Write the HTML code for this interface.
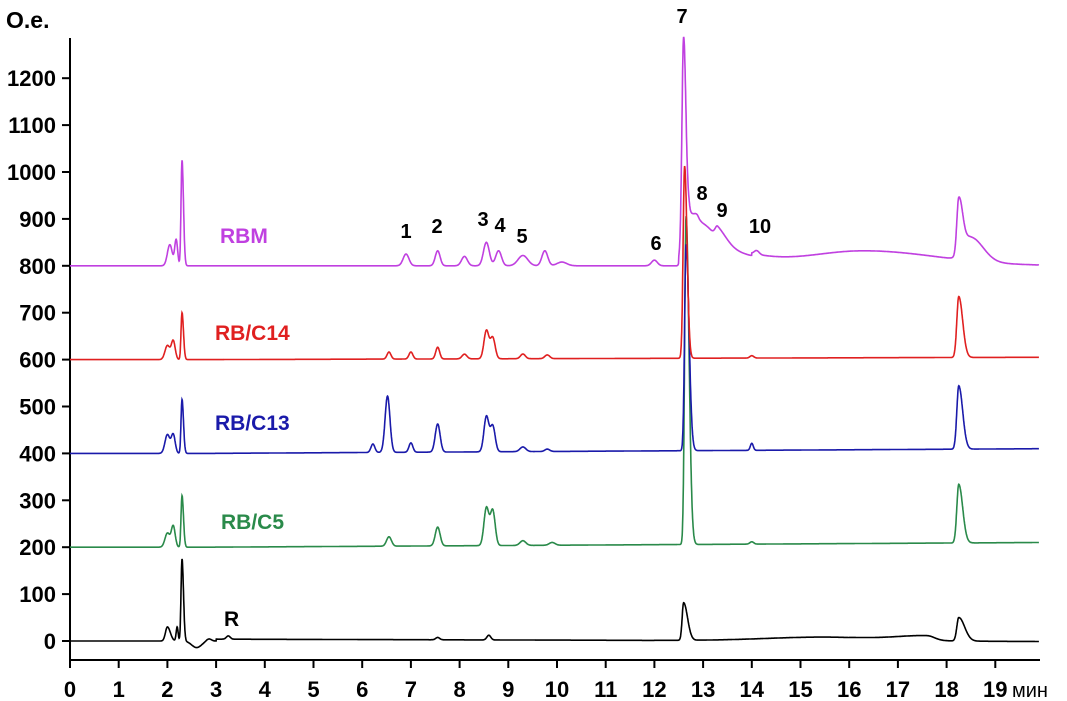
<!DOCTYPE html>
<html><head><meta charset="utf-8"><style>
body{margin:0;background:#fff;}
svg{display:block;font-family:"Liberation Sans",Arial,sans-serif;font-weight:bold;}
</style></head><body>
<svg id="s" width="1067" height="701" viewBox="0 0 1067 701">
<g stroke="#000" stroke-width="2" fill="none">
<line x1="70" y1="38" x2="70" y2="660"/>
<line x1="69" y1="660" x2="1040" y2="660"/>
</g>
<g id="ticks"></g>
<g id="traces" fill="none" stroke-width="1.6"></g>
<g font-size="22" text-anchor="end" id="ylab"></g>
<g font-size="22" text-anchor="middle" id="xlab"></g>
<text x="6" y="28" font-size="23">О.е.</text>
<text x="1012" y="697" font-size="20" font-weight="normal" text-anchor="start">мин</text>
<g font-size="21">
<text x="220" y="243" fill="#c040e0">RBM</text>
<text x="215" y="340" fill="#e02020">RB/C14</text>
<text x="215" y="430" fill="#1a1aaa">RB/C13</text>
<text x="221" y="529" fill="#2a8a4a">RB/C5</text>
<text x="224" y="626" fill="#000">R</text>
</g>
<g font-size="20" text-anchor="middle">
<text x="406" y="238">1</text><text x="437" y="233">2</text><text x="483" y="226">3</text>
<text x="500" y="232">4</text><text x="522" y="243">5</text><text x="656" y="250">6</text>
<text x="682" y="23">7</text><text x="702" y="200">8</text><text x="722" y="217">9</text>
<text x="760" y="233">10</text>
</g>
</svg>
<script>
const X=t=>70+t*48.7, Y=v=>641-v*0.469;
const ns="http://www.w3.org/2000/svg";
let tk="",yl="",xl="";
for(let v=0;v<=1200;v+=100){tk+=`<line x1="62" x2="70" y1="${Y(v)}" y2="${Y(v)}" stroke="#000" stroke-width="2"/>`;yl+=`<text x="56" y="${Y(v)+8}">${v}</text>`;}
for(let t=0;t<=19;t++){tk+=`<line x1="${X(t)}" x2="${X(t)}" y1="660" y2="668" stroke="#000" stroke-width="2"/>`;xl+=`<text x="${X(t)}" y="697">${t}</text>`;}
document.getElementById("ticks").innerHTML=tk;
document.getElementById("ylab").innerHTML=yl;
document.getElementById("xlab").innerHTML=xl;
function pk(t,c,h,wl,wr){const w=t<c?wl:(wr||wl);return h*Math.exp(-0.5*((t-c)/w)**2);}
function tr(base,end,peaks,color,hump){
 let d="";
 for(let t=0;t<=19.9;t+=0.005){
  let v=base+(t>2.8?(end-base)*(t-2.8)/17.1:0);
  if(hump)v+=hump(t);
  for(const p of peaks)v+=pk(t,...p);
  d+=(d?"L":"M")+X(t).toFixed(1)+","+Y(v).toFixed(1);
 }
 const p=document.createElementNS(ns,"path");p.setAttribute("d",d);p.setAttribute("stroke",color);
 document.getElementById("traces").appendChild(p);
}
tr(0,-5,[[2.0,30,0.04,0.06],[2.2,30,0.02],[2.3,175,0.02,0.03],[2.6,-14,0.1],[2.85,5,0.05],[3.25,7,0.04],[7.55,5,0.04],[8.6,10,0.04],[12.6,80,0.03,0.08],[18.25,50,0.04,0.12]],"#000",t=>(t>12?pk(t,15.5,8,1.2):0)+(t>16?pk(t,17.6,10,0.6,0.15):0)+(t>3?4:0));
tr(200,210,[[2.0,30,0.05],[2.12,45,0.04],[2.3,110,0.02,0.03],[6.55,20,0.05],[7.55,40,0.05],[8.55,80,0.05],[8.68,75,0.05],[9.3,10,0.06],[9.9,6,0.06],[12.65,700,0.03,0.06],[14.0,5,0.04],[18.25,125,0.04,0.08]],"#2a8a4a");
tr(400,410,[[2.0,40,0.05],[2.12,40,0.04],[2.3,115,0.02,0.03],[6.22,18,0.04],[6.52,120,0.05],[7.0,20,0.04],[7.55,60,0.05],[8.55,75,0.05],[8.68,55,0.05],[9.3,10,0.06],[9.8,5,0.05],[12.65,440,0.03,0.06],[14.0,15,0.03],[18.25,135,0.04,0.08]],"#1a1aaa");
tr(600,605,[[2.0,30,0.05],[2.12,40,0.04],[2.3,100,0.02,0.03],[6.55,15,0.04],[7.0,15,0.04],[7.55,25,0.04],[8.1,10,0.05],[8.55,60,0.05],[8.68,45,0.05],[9.3,10,0.05],[9.8,8,0.05],[12.62,410,0.03,0.05],[14.0,5,0.04],[18.25,130,0.04,0.08]],"#e02020");
tr(800,800,[[2.05,45,0.05],[2.18,55,0.03],[2.3,225,0.02,0.03],[6.9,25,0.06],[7.55,32,0.05],[8.1,20,0.06],[8.55,50,0.06],[8.8,32,0.06],[9.3,22,0.1],[9.75,32,0.06],[10.1,8,0.1],[12.0,12,0.06],[12.6,470,0.035,0.05],[12.72,80,0.04,0.1],[12.9,60,0.08,0.3],[13.3,25,0.05,0.2],[14.1,8,0.05]],"#c040e0",t=>(t>12.5?pk(t,13.2,35,0.5,0.8):0)+(t>14?pk(t,16.3,32,1.2,1.5):0)+pk(t,18.25,120,0.04,0.08)+pk(t,18.5,50,0.15,0.25));
</script>
</body></html>
